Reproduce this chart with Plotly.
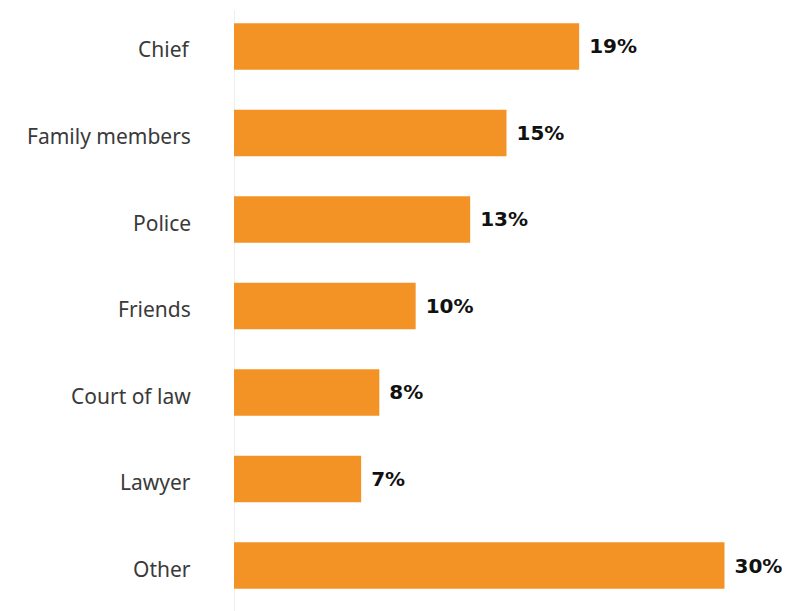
import plotly.graph_objects as go

categories = ["Chief", "Family members", "Police", "Friends", "Court of law", "Lawyer", "Other"]
values = [19, 15, 13, 10, 8, 7, 30]
value_labels = ["19%", "15%", "13%", "10%", "8%", "7%", "30%"]
display_cap = 27  # the longest bar is drawn shortened in the original

bar_x = [min(v, display_cap) for v in values]

fig = go.Figure(go.Bar(
    y=categories,
    x=bar_x,
    orientation="h",
    marker=dict(color="#F39325", line=dict(width=0)),
    width=0.54,
    text=[" " + t for t in value_labels],
    textposition="outside",
    cliponaxis=False,
    textfont=dict(family="DejaVu Sans", size=20, color="#111111", weight="bold"),
    hoverinfo="skip",
))

# page body has an 8px default margin; margins below compensate for it
fig.update_layout(
    width=794, height=611,
    margin=dict(l=226, r=23, t=0, b=8, autoexpand=False),
    paper_bgcolor="white", plot_bgcolor="white",
    showlegend=False,
    xaxis=dict(range=[0, 30], visible=False, fixedrange=True, automargin=False),
    yaxis=dict(
        range=[6.526, -0.445], automargin=False,
        showgrid=False, zeroline=False, showline=False, ticks="",
        showticklabels=False,
        fixedrange=True,
    ),
)
for cat in categories:
    fig.add_annotation(
        x=0, xref="paper", y=cat, yref="y",
        text=cat, showarrow=False, xanchor="right", yanchor="middle",
        xshift=-41, yshift=-3,
        font=dict(family="Noto Sans", size=21, color="#3a3a3a"),
    )
fig.add_shape(type="line", xref="x", yref="paper", x0=0, x1=0, y0=0, y1=0.9967,
              line=dict(color="#DDDDDD", width=1), layer="below")

fig.write_html("out.html")
